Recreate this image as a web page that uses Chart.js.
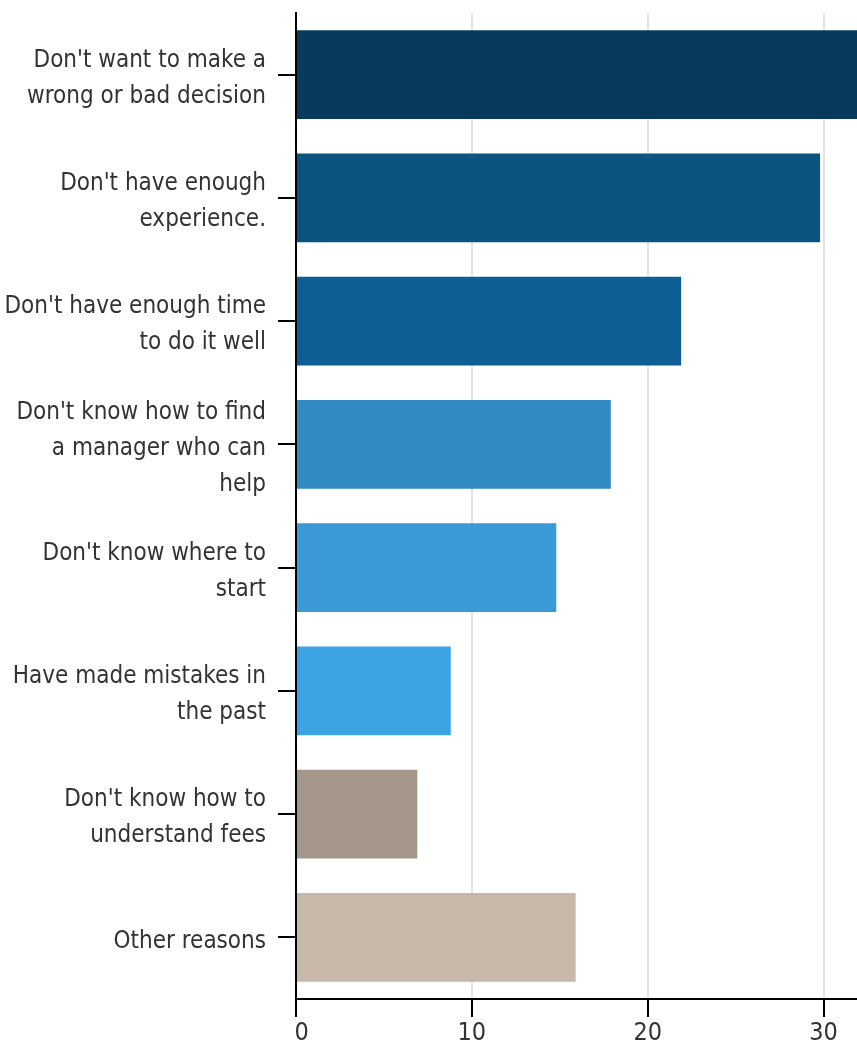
<!DOCTYPE html>
<html><head><meta charset="utf-8">
<script src="https://cdn.jsdelivr.net/npm/chart.js@4"></script>
<style>html,body{margin:0;padding:0;background:#fff}#wrap{width:857px;height:1044px}</style>
</head><body><div id="wrap"><canvas id="c"></canvas></div>
<script>
const categories = [
  ["Don't want to make a", "wrong or bad decision"],
  ["Don't have enough", "experience."],
  ["Don't have enough time", "to do it well"],
  ["Don't know how to find", "a manager who can", "help"],
  ["Don't know where to", "start"],
  ["Have made mistakes in", "the past"],
  ["Don't know how to", "understand fees"],
  "Other reasons"
];
const values = [32, 29.8, 21.9, 17.9, 14.8, 8.8, 6.9, 15.9];
const barColors = ["#083a5c", "#0b5381", "#0e5e96", "#318bc2", "#3a9ad5", "#3ca4e3", "#a4978a", "#c7b8aa"];
const xTicks = [0, 10, 20, 30];

const FONT = "'Liberation Sans Narrow', 'DejaVu Sans Condensed', Roboto, sans-serif";
new Chart(document.getElementById('c'), {
  type: 'bar',
  data: { labels: categories, datasets: [{ data: values, backgroundColor: barColors, borderWidth: 0, barPercentage: 0.72, categoryPercentage: 1 }] },
  options: {
    indexAxis: 'y', responsive: true, maintainAspectRatio: false, animation: false,
    layout: { padding: { top: 13, right: 0, left: 0, bottom: 0 } },
    plugins: { legend: { display: false }, tooltip: { enabled: false } },
    scales: {
      x: {
        min: 0, max: 31.9,
        afterBuildTicks: s => { s.ticks = xTicks.map(v => ({ value: v })); },
        afterFit: s => { s.height = 45; s.paddingLeft = 0; s.paddingRight = 0; },
        border: { display: true, color: '#000', width: 2 },
        grid: { color: '#e3e3e3', lineWidth: 2, tickLength: 18, tickColor: '#000', tickWidth: 2, drawTicks: true },
        ticks: { color: '#333', font: { family: FONT, size: 25 }, padding: 1, maxRotation: 0,
                 callback: v => (v === 0 ? '\u2002' + v : String(v)) }
      },
      y: {
        afterFit: s => { s.width = 296; s.paddingTop = 0; s.paddingBottom = 0; },
        border: { display: true, color: '#000', width: 2 },
        grid: { drawOnChartArea: false, offset: false, tickLength: 18, color: '#000', lineWidth: 2 },
        ticks: { color: '#333', font: { family: FONT, size: 24, lineHeight: 1.5 }, padding: 12, labelOffset: 4 }
      }
    }
  }
});
</script></body></html>
